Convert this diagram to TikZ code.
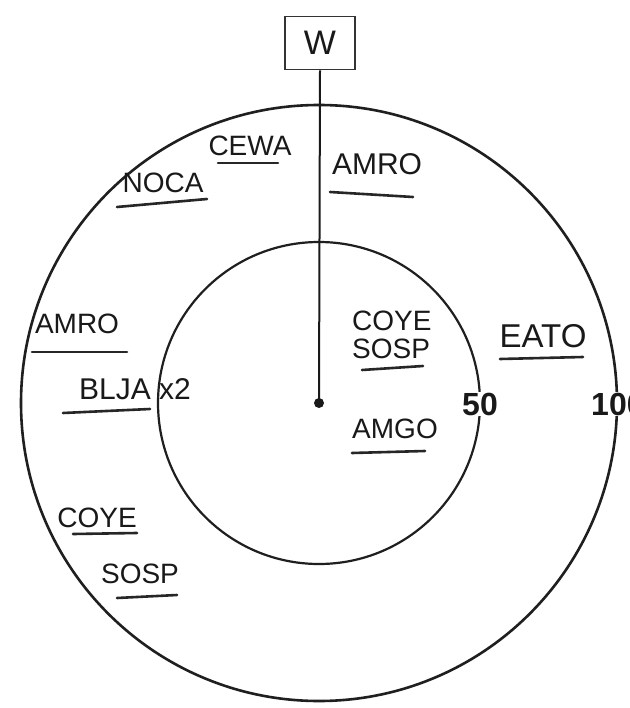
\documentclass[tikz,border=0pt]{standalone}
\usepackage{fontspec}
\setmainfont{Liberation Sans}
\begin{document}
\begin{tikzpicture}[x=1pt,y=-1pt,
  lab/.style={inner sep=0pt, font=\fontsize{28}{30}\selectfont, text=black!90},
  num/.style={inner sep=1pt, fill=white, font=\fontsize{32}{34}\selectfont\bfseries, text=black!90},
  uline/.style={line width=2.6pt, line cap=round, black!85},
  ring/.style={line width=2.6pt, black!88}]
\useasboundingbox (0,0) rectangle (629,708);
\clip (0,0) rectangle (629,708);
\fill[white] (0,0) rectangle (629,708);
% rings
\coordinate (c) at (319,403);
\draw[ring] (c) circle[radius=298pt];
\draw[ring, line width=2.2pt] (c) circle[radius=161pt];
% labels 50 / 100
\node[num] (n50) at (480,404) {50};
\node[num, anchor=west] (n100) at (590,404) {100};
% W box and line
\node[draw=black!80, line width=1.6pt, minimum width=70pt, minimum height=53pt,
      inner sep=0pt, font=\fontsize{34}{36}\selectfont, text=black!90] (w) at (320,43) {W};
\fill[black!90] (c) circle[radius=5pt];
\node[circle, inner sep=0pt, minimum size=10pt] (dot) at (c) {};
\draw[line width=2pt, black!90] (w.south) -- (dot.center);
% text labels
\node[lab] (cewa) at (250,146) {CEWA};
\draw[uline] (218,163) -- (278,163);
\node[lab] (noca) at (163,183) {NOCA};
\draw[uline] (117,207) -- (207,199);
\node[lab, font=\fontsize{30}{32}\selectfont] (amro1) at (377,164) {AMRO};
\draw[uline] (330,192) -- (413,197);
\node[lab] (amro2) at (77,324) {AMRO};
\draw[uline] (32,352) -- (127,352);
\node[lab, font=\fontsize{30}{32}\selectfont] (blja) at (135,389) {BLJA x2};
\draw[uline] (63,413) -- (150,409);
\node[lab, align=left, anchor=west, font=\fontsize{28}{28}\selectfont] (coyesosp1) at (352,335) {COYE\\SOSP};
\draw[uline] (362,370) -- (423,366);
\node[lab, font=\fontsize{33}{35}\selectfont] (eato) at (543,336) {EATO};
\draw[uline] (500,359) -- (583,357);
\node[lab] (amgo) at (395,429) {AMGO};
\draw[uline] (352,453) -- (425,451);
\node[lab] (coye2) at (97,518) {COYE};
\draw[uline] (73,534) -- (137,533);
\node[lab] (sosp2) at (140,574) {SOSP};
\draw[uline] (117,598) -- (177,595);
\end{tikzpicture}
\end{document}
